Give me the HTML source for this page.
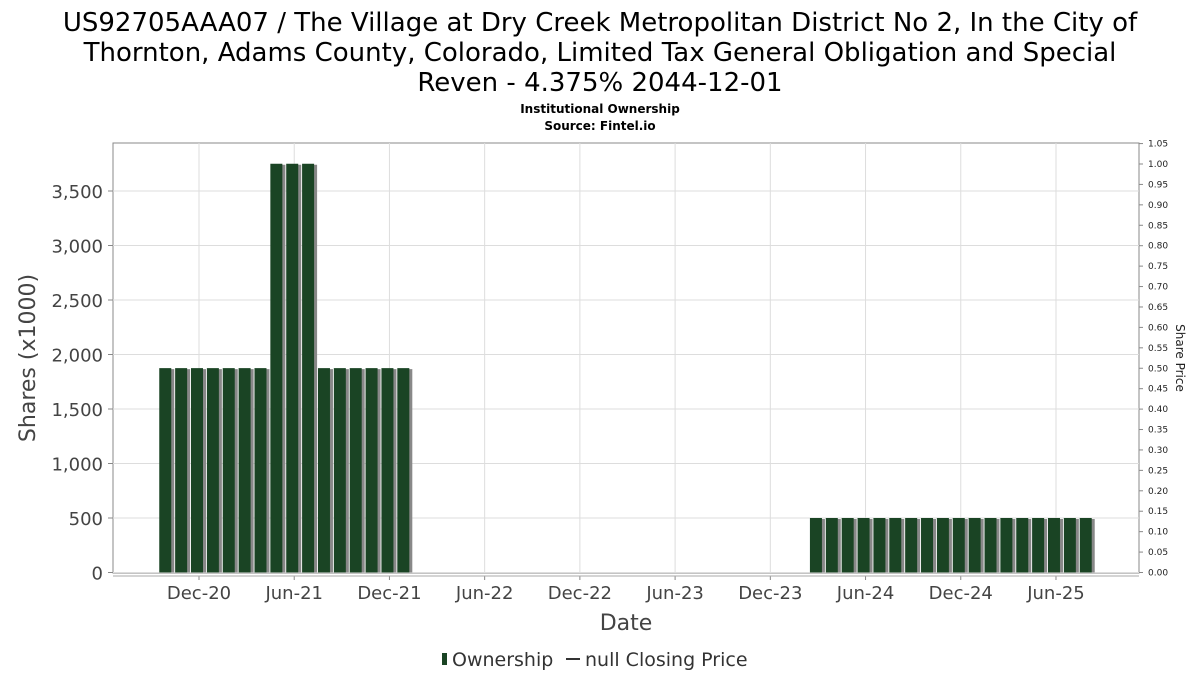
<!DOCTYPE html>
<html><head><meta charset="utf-8"><style>
body{margin:0;background:#fff;}
svg{display:block;font-family:"DejaVu Sans","Liberation Sans",sans-serif;}
</style></head><body>
<svg id="chart" width="1200" height="675" viewBox="0 0 1200 675" xmlns="http://www.w3.org/2000/svg">
<g font-size="26" fill="#000" text-anchor="middle">
<text x="600" y="31">US92705AAA07 / The Village at Dry Creek Metropolitan District No 2, In the City of</text>
<text x="600" y="61">Thornton, Adams County, Colorado, Limited Tax General Obligation and Special</text>
<text x="600" y="91">Reven - 4.375% 2044-12-01</text>
</g>
<text x="600" y="113" font-size="12" font-weight="bold" text-anchor="middle">Institutional Ownership</text>
<text x="600" y="130" font-size="12" font-weight="bold" text-anchor="middle">Source: Fintel.io</text>
<rect x="113" y="143" width="1026" height="430" fill="#fff" stroke="#888" stroke-width="1"/>
<g id="grid"></g>
<g id="bars"></g>
<g id="axes"></g>
<text transform="translate(35,358) rotate(-90)" font-size="22" fill="#444" text-anchor="middle">Shares (x1000)</text>
<text transform="translate(1176,358) rotate(90)" font-size="12" fill="#222" text-anchor="middle">Share Price</text>
<text x="626" y="630" font-size="22" fill="#444" text-anchor="middle">Date</text>
<g>
<rect x="442" y="653" width="5" height="12" fill="#1a4424"/>
<text x="452" y="666" font-size="19" fill="#333">Ownership</text>
<line x1="566" y1="659" x2="580" y2="659" stroke="#333" stroke-width="2"/>
<text x="585" y="666" font-size="19" fill="#333">null Closing Price</text>
</g>
</svg>
<script>
const months = ["2020-10","2020-11","2020-12","2021-01","2021-02","2021-03","2021-04","2021-05","2021-06","2021-07","2021-08","2021-09","2021-10","2021-11","2021-12","2022-01",
"2024-03","2024-04","2024-05","2024-06","2024-07","2024-08","2024-09","2024-10","2024-11","2024-12","2025-01","2025-02","2025-03","2025-04","2025-05","2025-06","2025-07","2025-08"];
const shares = [1875,1875,1875,1875,1875,1875,1875,3750,3750,3750,1875,1875,1875,1875,1875,1875,
500,500,500,500,500,500,500,500,500,500,500,500,500,500,500,500,500,500];
const yTicks = [0,500,1000,1500,2000,2500,3000,3500];
const y2Ticks = [];
for (let i=0;i<=21;i++) y2Ticks.push(i*0.05);
const xTickLabels = ["Dec-20","Jun-21","Dec-21","Jun-22","Dec-22","Jun-23","Dec-23","Jun-24","Dec-24","Jun-25"];
const xTickMonths = ["2020-12","2021-06","2021-12","2022-06","2022-12","2023-06","2023-12","2024-06","2024-12","2025-06"];

const NS="http://www.w3.org/2000/svg";
function mi(s){const [y,m]=s.split("-").map(Number);return y*12+m-1;}
const base=mi("2020-12");
function xS(s){return 199+(mi(s)-base)*15.87;}
function yS(v){return 572.5-v*0.109;}
function y2S(v){return 572.5-v*(408.5/1.0);}
function mk(tag,attrs,parent){const e=document.createElementNS(NS,tag);for(const k in attrs)e.setAttribute(k,attrs[k]);parent.appendChild(e);return e;}
const grid=document.getElementById("grid"),bars=document.getElementById("bars"),axes=document.getElementById("axes");

yTicks.forEach(v=>{
  const y=yS(v);
  const l=mk("line",{x1:113,x2:1139,y1:y,y2:y,stroke:"#ddd","stroke-width":1},grid);
  
  
  const t=mk("text",{x:103,y:y+7,"font-size":18,fill:"#444","text-anchor":"end"},axes);
  t.textContent=v.toLocaleString("en-US");
  
  
  mk("line",{x1:108,x2:113,y1:y,y2:y,stroke:"#888"},axes);
});
xTickMonths.forEach((m,i)=>{
  const x=xS(m);
  const l=mk("line",{x1:x,x2:x,y1:143,y2:573,stroke:"#ddd","stroke-width":1},grid);
  
  
  mk("line",{x1:x,x2:x,y1:576,y2:580,stroke:"#888"},axes);
  const t=mk("text",{x:x,y:599,"font-size":18,fill:"#444","text-anchor":"middle"},axes);
  t.textContent=xTickLabels[i];
  
  
});
mk("line",{x1:113,x2:1139,y1:576,y2:576,stroke:"#aaa"},axes);
y2Ticks.forEach(v=>{
  const y=y2S(v);
  mk("line",{x1:1139,x2:1143,y1:y,y2:y,stroke:"#888"},axes);
  const t=mk("text",{x:1148,y:y+3,"font-size":9,fill:"#222"},axes);
  t.textContent=v.toFixed(2);
  
  
});
months.forEach((m,i)=>{
  const cx=xS(m)-2, y=yS(shares[i]);
  const s=mk("rect",{x:cx-5,y:y+1,width:14,height:572.5-y-1,fill:"#888"},bars);
  
  
  const r=mk("rect",{x:cx-6,y:y,width:12,height:572.5-y,fill:"#1a4424"},bars);
  
  
});
</script>
</body></html>
